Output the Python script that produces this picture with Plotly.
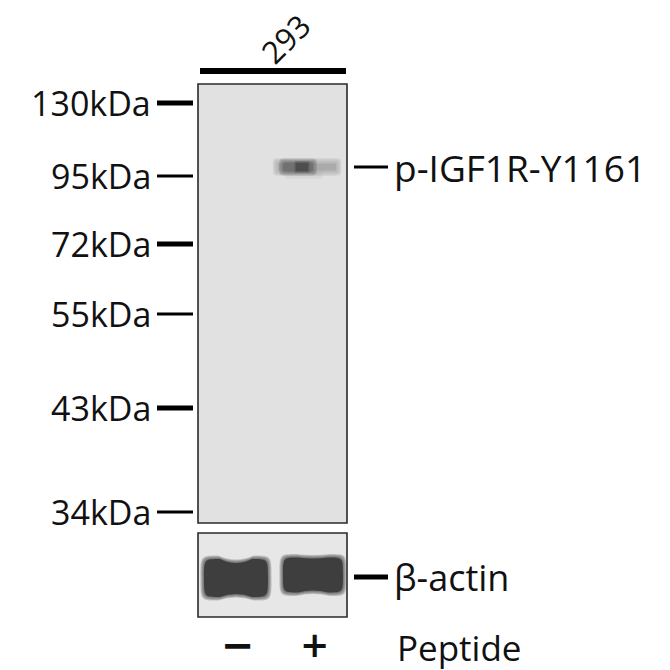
import plotly.graph_objects as go

# values
cell_line = "293"
lanes = ["\u2212", "+"]
lane_centers = [236, 312]
treatment = "Peptide"

marker_labels = ["130kDa", "95kDa", "72kDa", "55kDa", "43kDa", "34kDa"]
marker_rows = [103, 176, 244, 314, 408, 512]

target_label = "p-IGF1R-Y1161"
target_row = 167
target_signal = [0.0, 0.75]

control_label = "\u03b2-actin"
control_row = 577
control_signal = [1.0, 0.92]

FONT = "Open Sans"
PAD = 8  # page body margin of the html page, shift the ranges to cancel it


def band_path(cx, cy, w, h, dip_top=0.0, dip_bot=0.0):
    """rounded band outline, optional dips in the top/bottom edges"""
    x0, x1 = cx - w / 2, cx + w / 2
    y0, y1 = cy - h / 2, cy + h / 2
    r = min(h / 2, w / 4)
    return (f"M {x0},{cy} C {x0},{y0} {x0},{y0} {x0 + r},{y0} "
            f"Q {cx},{y0 + 2 * dip_top} {x1 - r},{y0} "
            f"C {x1},{y0} {x1},{y0} {x1},{cy} "
            f"C {x1},{y1} {x1},{y1} {x1 - r},{y1} "
            f"Q {cx},{y1 - 2 * dip_bot} {x0 + r},{y1} "
            f"C {x0},{y1} {x0},{y1} {x0},{cy} Z")


def soft_band(fig, cx, cy, w, h, color, dip_top=0.0, dip_bot=0.0,
              layers=4, spread=1.0, alpha=0.2, core=0.95):
    # stacked translucent outlines fake the blurred edge of a band
    for k in range(layers, 0, -1):
        g = k * spread
        fig.add_shape(type="path", xref="x", yref="y",
                      path=band_path(cx, cy, w + 2 * g, h + 2 * g, dip_top, dip_bot),
                      fillcolor=color, opacity=alpha, line=dict(width=0), layer="above")
    fig.add_shape(type="path", xref="x", yref="y",
                  path=band_path(cx, cy, w, h, dip_top, dip_bot),
                  fillcolor=color, opacity=core, line=dict(width=0), layer="above")


fig = go.Figure()

# membranes
fig.add_shape(type="rect", x0=198, x1=347, y0=84, y1=523,
              fillcolor="#e1e1e1", line=dict(color="#2a2a2a", width=1.6), layer="below")
fig.add_shape(type="rect", x0=198, x1=347, y0=533, y1=617,
              fillcolor="#e7e7e7", line=dict(color="#2a2a2a", width=1.6), layer="below")

# cell line bar + label
fig.add_trace(go.Scatter(x=[200, 346], y=[71, 71], mode="lines",
                         line=dict(color="black", width=6), hoverinfo="skip"))
fig.add_annotation(x=285, y=39, xref="x", yref="y", text=cell_line, showarrow=False,
                   textangle=-45, xanchor="center", yanchor="middle",
                   borderpad=0, borderwidth=0,
                   font=dict(family=FONT, size=31, color="#111"))

# marker ladder
for i, (lab, row) in enumerate(zip(marker_labels, marker_rows)):
    fig.add_trace(go.Scatter(x=[157, 193], y=[row, row], mode="lines",
                             line=dict(color="black", width=5 if i % 2 == 0 else 3),
                             hoverinfo="skip"))
    fig.add_annotation(x=153, y=row, xref="x", yref="y", text=lab, showarrow=False,
                       xanchor="right", yanchor="middle",
                       font=dict(family=FONT, size=34, color="#111"))

# target bands
for cx, s in zip(lane_centers, target_signal):
    if s <= 0:
        continue
    soft_band(fig, cx - 8, target_row + 5, 30, 5, "#cdcdcd", layers=3, spread=1.5, alpha=0.3, core=0.5)
    soft_band(fig, cx - 5, target_row, 58, 7, "#a6a6a6", layers=4, spread=1.3, alpha=0.25, core=0.8)
    soft_band(fig, cx - 14, target_row, 30, 9, "#6e6e6e", layers=3, spread=1.3, alpha=0.3, core=0.85)
    soft_band(fig, cx - 10, target_row, 12, 8, "#4a4a4a", layers=2, spread=1.0, alpha=0.3, core=0.85)

# loading control bands
for i, (cx, s) in enumerate(zip(lane_centers, control_signal)):
    w = 64 if i == 0 else 60
    h = 38 * s
    soft_band(fig, cx + (0 if i == 0 else 1), control_row + (1 if i == 0 else -2), w, h, "#3b3b3b",
              dip_top=4 if i == 0 else 1, dip_bot=3 if i == 0 else 2,
              layers=4, spread=0.9, alpha=0.22)

# right-side labels
for row, lab, wd in [(target_row, target_label, 3), (control_row, control_label, 5)]:
    fig.add_trace(go.Scatter(x=[354, 388], y=[row, row], mode="lines",
                             line=dict(color="black", width=wd), hoverinfo="skip"))
    fig.add_annotation(x=392, y=row, xref="x", yref="y", text=lab, showarrow=False,
                       xanchor="left", yanchor="middle",
                       font=dict(family=FONT, size=37 if row == target_row else 36, color="#111"))

# treatment row (DejaVu has a wide minus and a short line box, so it fits the bottom edge)
for cx, lab in zip(lane_centers, lanes):
    fig.add_annotation(x=cx + 2, y=645, xref="x", yref="y", text="<b>" + lab + "</b>",
                       showarrow=False, xanchor="center", yanchor="middle",
                       font=dict(family="DejaVu Sans", size=40 if lab == "\u2212" else 35,
                                 color="#111"))
fig.add_annotation(x=395, y=647, xref="x", yref="y", text=treatment, showarrow=False,
                   xanchor="left", yanchor="middle",
                   font=dict(family=FONT, size=35, color="#111"))

fig.update_layout(
    width=670, height=670,
    margin=dict(l=0, r=0, t=0, b=0),
    paper_bgcolor="white", plot_bgcolor="white",
    showlegend=False,
    xaxis=dict(range=[PAD, 670 + PAD], visible=False, fixedrange=True),
    yaxis=dict(range=[670 + PAD, PAD], visible=False, fixedrange=True),
)

fig.write_html("out.html")
